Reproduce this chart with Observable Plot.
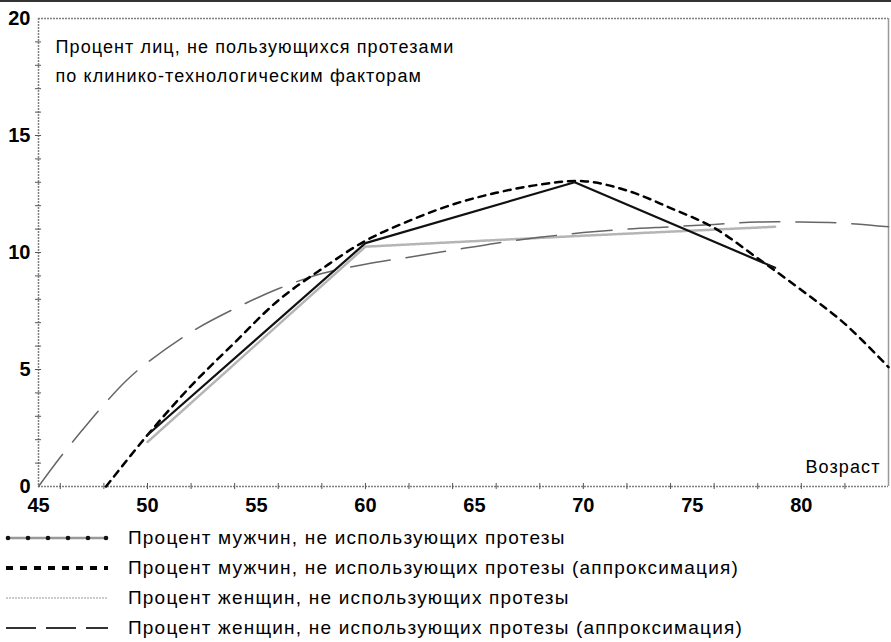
<!DOCTYPE html>
<html>
<head>
<meta charset="utf-8">
<script src="https://cdn.jsdelivr.net/npm/d3@7"></script>
<script src="https://cdn.jsdelivr.net/npm/@observablehq/plot@0.6"></script>
<style>
  html, body { margin: 0; padding: 0; background: #fff; }
  #wrap { width: 891px; border-top: 2px solid #333; font-family: "Liberation Sans Narrow", "Arial Narrow", "Liberation Sans", sans-serif; }
  .leg { display: flex; align-items: center; height: 30px; }
  .leg svg { margin-left: 4px; flex: none; }
  .leg span { margin-left: 16px; font-size: 19px; letter-spacing: 1.2px; color: #000; white-space: nowrap; }
  #wrap svg g[aria-label="text"] text { letter-spacing: 1.1px; }
</style>
</head>
<body>
<div id="wrap"></div>
<script>
// ---- data ----
const menAge = [50, 60, 69.6, 78.8];
const menPct = [2.2, 10.4, 13.0, 9.35];
const womenAge = [50, 60, 69.6, 78.8];
const womenPct = [1.9, 10.25, 10.7, 11.1];
const menFitAge = [48.1, 50, 52, 54, 56, 58, 60, 62, 64, 66, 68, 70, 72, 74, 76, 78, 80, 82, 84];
const menFitPct = [0, 2.2, 4.3, 6.15, 7.95, 9.3, 10.5, 11.35, 12.05, 12.55, 12.9, 13.05, 12.65, 11.9, 11.05, 9.75, 8.4, 6.95, 5.1];
const womenFitAge = [45, 46, 47, 48, 49, 50, 52, 54, 56, 58, 60, 62, 64, 66, 68, 70, 72, 74, 76, 78, 80, 82, 84];
const womenFitPct = [0, 1.25, 2.4, 3.5, 4.5, 5.3, 6.6, 7.6, 8.45, 9.1, 9.5, 9.8, 10.1, 10.4, 10.65, 10.85, 11.0, 11.1, 11.2, 11.3, 11.3, 11.25, 11.1];
const xLabelTicks = [45, 50, 55, 60, 65, 70, 75, 80];
const xMinorTicks = [46, 48, 50, 52, 54, 56, 58, 60, 62, 64, 66, 68, 70, 72, 74, 76, 78, 80, 82];
const yLabelTicks = [0, 5, 10, 15, 20];
const yMinorTicks = [1,2,3,4,5,6,7,8,9,10,11,12,13,14,15,16,17,18,19];
const titleText = "Процент лиц, не пользующихся протезами\nпо клинико-технологическим факторам";
const xTitle = "Возраст";
const legendLabels = [
  "Процент мужчин, не использующих протезы",
  "Процент мужчин, не использующих протезы (аппроксимация)",
  "Процент женщин, не использующих протезы",
  "Процент женщин, не использующих протезы (аппроксимация)"
];

const zip = (a, b) => a.map((x, i) => ({x, y: b[i]}));
const men = zip(menAge, menPct);
const women = zip(womenAge, womenPct);
const menFit = zip(menFitAge, menFitPct);
const womenFit = zip(womenFitAge, womenFitPct);

const numFont = "'Liberation Sans', Arial, sans-serif";
const dotted = {stroke: "#808080", strokeWidth: 1.5, strokeDasharray: "2,1"};

const chart = Plot.plot({
  width: 891,
  height: 518,
  marginLeft: 38,
  marginRight: 3,
  marginTop: 16,
  marginBottom: 34,
  x: {domain: [45, 84]},
  y: {domain: [0, 20]},
  style: {background: "#fff", color: "#000", fontFamily: "'Liberation Sans Narrow', 'Arial Narrow', 'Liberation Sans', sans-serif"},
  marks: [
    Plot.ruleY([20], dotted),
    Plot.ruleX([84], {stroke: "#999", strokeWidth: 1.5}),
    Plot.ruleY([0], dotted),
    Plot.ruleX([45], dotted),
    Plot.ruleX(xMinorTicks, {y1: -0.13, y2: 0.13, stroke: "#555"}),
    Plot.ruleY(yMinorTicks, {x1: 44.86, x2: 45.14, stroke: "#555"}),
    Plot.axisX({ticks: xLabelTicks, tickSize: 0, tickPadding: 11, fontSize: 20, fontFamily: numFont, fontWeight: "bold", label: null}),
    Plot.axisY({ticks: yLabelTicks, tickSize: 0, tickPadding: 8, fontSize: 20, fontFamily: numFont, fontWeight: "bold", label: null}),
    // women actual
    Plot.line(women, {x: "x", y: "y", stroke: "#b5b5b5", strokeWidth: 2.5, strokeDasharray: "2,1"}),
    // women approximation
    Plot.line(womenFit, {x: "x", y: "y", curve: "catmull-rom", stroke: "#666", strokeWidth: 1.5, strokeDasharray: "40,16"}),
    // men approximation
    Plot.line(menFit, {x: "x", y: "y", curve: "catmull-rom", stroke: "#000", strokeWidth: 2.5, strokeDasharray: "7,6"}),
    // men actual
    Plot.line(men, {x: "x", y: "y", stroke: "#111", strokeWidth: 2.2}),
    Plot.text([titleText], {frameAnchor: "top-left", dx: 17, dy: 14, textAnchor: "start", lineAnchor: "top", lineHeight: 1.6, fontSize: 18, fill: "#000"}),
    Plot.text([xTitle], {frameAnchor: "bottom-right", dx: -8, dy: -14, textAnchor: "end", lineAnchor: "bottom", fontSize: 18, fill: "#000"})
  ]
});
document.getElementById("wrap").appendChild(chart);

// legend
const swatches = [
  () => `<line x1="2" y1="10" x2="104" y2="10" stroke="#999" stroke-width="2.5"/>` + [4,24,44,64,84,102].map(cx => `<circle cx="${cx}" cy="10" r="2.3" fill="#111"/>`).join(""),
  () => `<line x1="2" y1="10" x2="104" y2="10" stroke="#000" stroke-width="4" stroke-dasharray="7,7"/>`,
  () => `<line x1="2" y1="10" x2="104" y2="10" stroke="#bbb" stroke-width="1.5" stroke-dasharray="2,1"/>`,
  () => `<line x1="2" y1="10" x2="104" y2="10" stroke="#333" stroke-width="2" stroke-dasharray="30,10"/>`
];
const leg = document.createElement("div");
leg.style.marginTop = "3px";
legendLabels.forEach((lab, i) => {
  const row = document.createElement("div");
  row.className = "leg";
  row.innerHTML = `<svg width="108" height="20">${swatches[i]()}</svg><span>${lab}</span>`;
  leg.appendChild(row);
});
document.getElementById("wrap").appendChild(leg);
</script>
</body>
</html>
